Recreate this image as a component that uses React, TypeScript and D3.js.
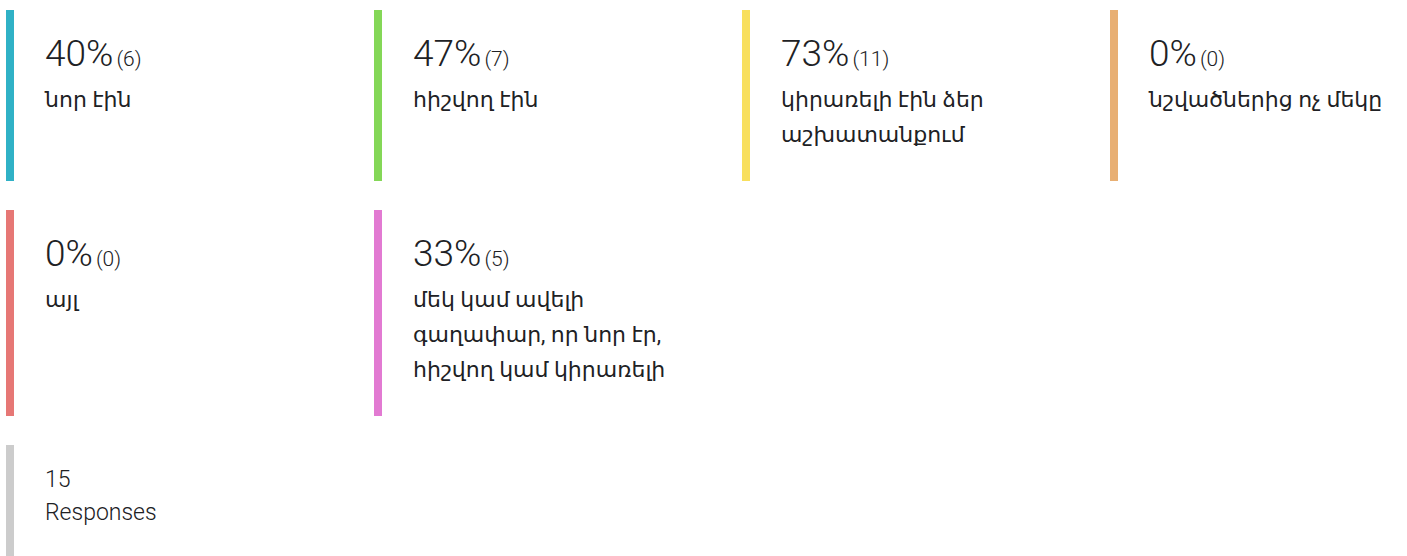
import React, { useEffect, useRef } from 'react';
import * as d3 from 'd3';

const categories = [
  'նոր էին',
  'հիշվող էին',
  'կիրառելի էին ձեր աշխատանքում',
  'նշվածներից ոչ մեկը',
  'այլ',
  'մեկ կամ ավելի գաղափար, որ նոր էր, հիշվող կամ կիրառելի',
];
const counts = [6, 7, 11, 0, 0, 5];
const totalResponses = 15;
const totalLabel = 'Responses';
const colors = ['#30b1c6', '#84d757', '#f8df5d', '#e8af73', '#e67775', '#e27ad2'];
const totalColor = '#cccccc';

const WIDTH = 1407;
const HEIGHT = 556;
const COLS = 4;

const LIGHT = '"Roboto Light", Roboto, sans-serif';
const LABEL_FONT = 'Roboto, "Noto Sans", "DejaVu Sans", sans-serif';

const App = () => {
  const svgRef = useRef<SVGSVGElement>(null);

  useEffect(() => {
    const svg = d3.select(svgRef.current);
    svg.selectAll('*').remove();

    const x = d3.scaleBand<number>()
      .domain(d3.range(COLS))
      .range([6, 6 + COLS * 368])
      .paddingInner(0);

    const textOffset = 39;
    const maxTextWidth = 290;
    const lineHeight = 35;
    const barW = 8;
    const rowGap = 29;

    const data = categories.map((name, i) => ({
      name,
      count: counts[i],
      pct: Math.round((counts[i] / totalResponses) * 100),
      color: colors[i],
    }));

    const rows = d3.groups(data.map((d, i) => ({ ...d, i })), d => Math.floor(d.i / COLS));

    // measure helper for wrapping
    const measure = svg.append('text')
      .style('font-family', LABEL_FONT)
      .style('font-size', '22px');
    const wrap = (s: string) => {
      const words = s.split(' ');
      const lines: string[] = [];
      let cur = '';
      words.forEach(w => {
        const test = cur ? cur + ' ' + w : w;
        measure.text(test);
        const len = (measure.node() as SVGTextElement).getComputedTextLength();
        if (len > maxTextWidth && cur) {
          lines.push(cur);
          cur = w;
        } else {
          cur = test;
        }
      });
      if (cur) lines.push(cur);
      return lines;
    };
    const wrapped = data.map(d => wrap(d.name));
    measure.remove();

    let top = 10;
    rows.forEach(([, items]) => {
      const maxLines = d3.max(items, d => wrapped[d.i].length) || 1;
      const h = 97 + (maxLines - 1) * lineHeight + 39;

      items.forEach(d => {
        const col = d.i % COLS;
        const g = svg.append('g').attr('transform', `translate(${x(col)},${top})`);
        g.append('rect')
          .attr('width', barW)
          .attr('height', h)
          .attr('fill', d.color);

        const pct = g.append('text')
          .attr('x', textOffset)
          .attr('y', 56)
          .attr('fill', '#202124')
          .style('font-family', LIGHT)
          .style('font-weight', 300);
        pct.append('tspan')
          .style('font-size', '37px')
          .text(`${d.pct}%`);
        pct.append('tspan')
          .attr('dx', 3)
          .style('font-size', '21px')
          .text(`(${d.count})`);

        const label = g.append('text')
          .attr('fill', '#202124')
          .style('font-family', LABEL_FONT)
          .style('font-size', '22px');
        wrapped[d.i].forEach((line, li) => {
          label.append('tspan')
            .attr('x', textOffset)
            .attr('y', 97 + li * lineHeight)
            .text(line);
        });
      });
      top += h + rowGap;
    });

    // total responses block
    const tg = svg.append('g').attr('transform', `translate(${x(0)},${top})`);
    tg.append('rect')
      .attr('width', barW)
      .attr('height', 140)
      .attr('fill', totalColor);
    tg.append('text')
      .attr('x', textOffset)
      .attr('y', 42)
      .attr('fill', '#202124')
      .style('font-family', LIGHT)
      .style('font-weight', 300)
      .style('font-size', '23px')
      .text(totalResponses);
    tg.append('text')
      .attr('x', textOffset)
      .attr('y', 75)
      .attr('fill', '#202124')
      .style('font-family', LIGHT)
      .style('font-weight', 300)
      .style('font-size', '23px')
      .text(totalLabel);
  }, []);

  return (
    <svg
      ref={svgRef}
      width={WIDTH}
      height={HEIGHT}
      style={{ position: 'absolute', left: 0, top: 0, background: '#fff', display: 'block' }}
    />
  );
};

export default App;
